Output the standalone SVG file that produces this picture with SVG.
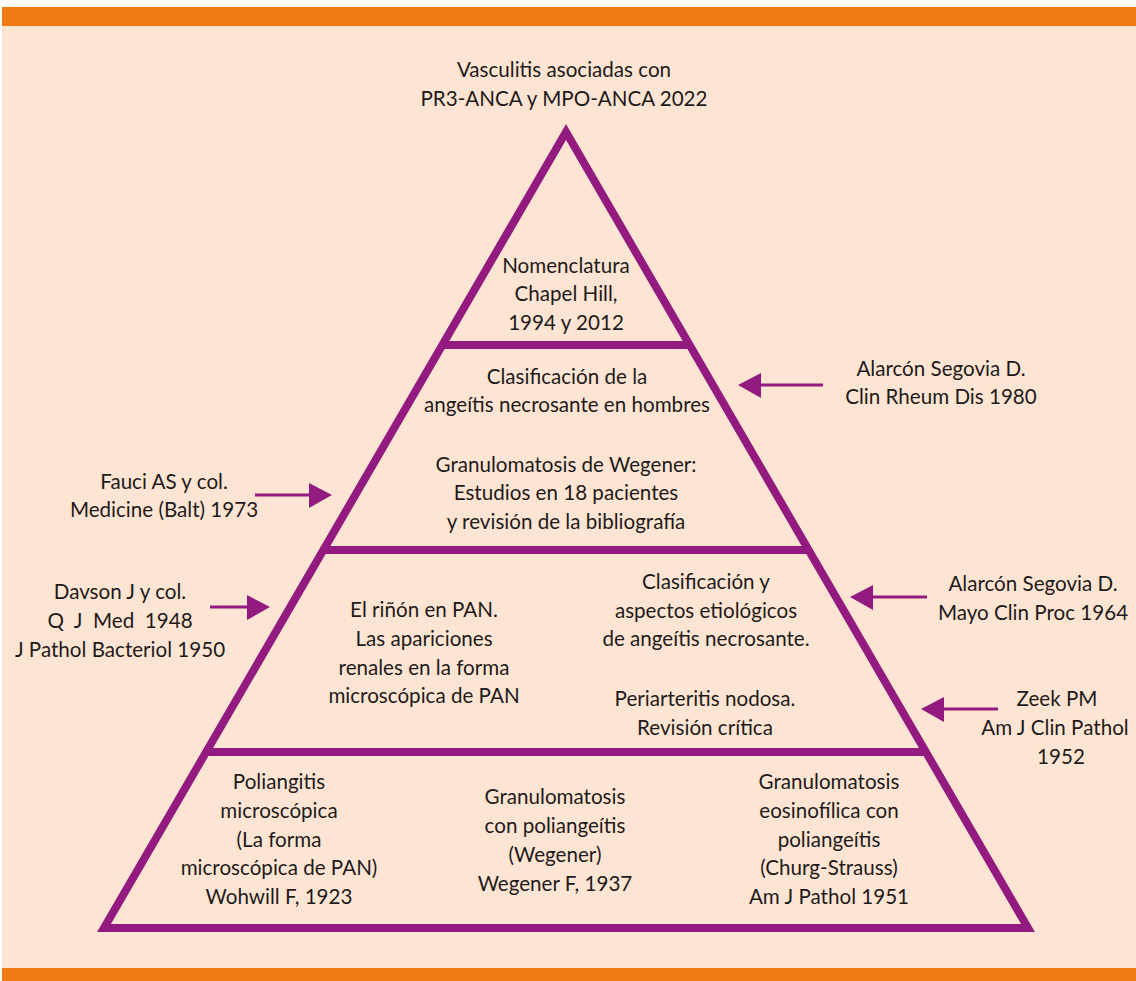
<svg xmlns="http://www.w3.org/2000/svg" width="1136" height="981" viewBox="0 0 1136 981">
<defs>
<style>
.t{font-family:Lato,"Open Sans","Liberation Sans",sans-serif;font-size:20.6px;fill:#1e1a1a;text-anchor:middle}
.tri{fill:none;stroke:#931b7f;stroke-width:8;stroke-linejoin:miter}
.ln{stroke:#931b7f;stroke-width:8}
.ar{stroke:#931b7f;stroke-width:3;fill:none}
.ah{fill:#931b7f}
</style>
</defs>
<rect x="0" y="0" width="1136" height="981" fill="#ffffff"/>
<rect x="2" y="26" width="1134" height="943" fill="#fee5d3"/>
<rect x="2" y="7" width="1134" height="19" fill="#ef7913"/>
<rect x="2" y="968" width="1134" height="13" fill="#ef7913"/>

<g id="pyramid">
<polygon class="tri" points="566,132 104,928 1028,928"/>
<line class="ln" x1="442" y1="345" x2="690" y2="345"/>
<line class="ln" x1="323" y1="550" x2="809" y2="550"/>
<line class="ln" x1="206" y1="752" x2="926" y2="752"/>
</g>

<g id="title"><text class="t" x="564" y="77">Vasculitis asociadas con</text><text class="t" x="564" y="106">PR3-ANCA y MPO-ANCA 2022</text></g>

<g id="tier1"><text class="t" x="566" y="273">Nomenclatura</text><text class="t" x="566" y="301">Chapel Hill,</text><text class="t" x="566" y="330">1994 y 2012</text></g>

<g id="tier2a"><text class="t" x="567" y="384">Clasificación de la</text><text class="t" x="567" y="412">angeítis necrosante en hombres</text></g>
<g id="tier2b"><text class="t" x="566" y="472">Granulomatosis de Wegener:</text><text class="t" x="566" y="500">Estudios en 18 pacientes</text><text class="t" x="566" y="529">y revisión de la bibliografía</text></g>

<g id="tier3a"><text class="t" x="424" y="617">El riñón en PAN.</text><text class="t" x="424" y="646">Las apariciones</text><text class="t" x="424" y="675">renales en la forma</text><text class="t" x="424" y="703">microscópica de PAN</text></g>
<g id="tier3b"><text class="t" x="706" y="589">Clasificación y</text><text class="t" x="706" y="618">aspectos etiológicos</text><text class="t" x="706" y="646">de angeítis necrosante.</text></g>
<g id="tier3c"><text class="t" x="705" y="706">Periarteritis nodosa.</text><text class="t" x="705" y="735">Revisión crítica</text></g>

<g id="tier4a"><text class="t" x="279" y="789">Poliangitis</text><text class="t" x="279" y="818">microscópica</text><text class="t" x="279" y="847">(La forma</text><text class="t" x="279" y="875">microscópica de PAN)</text><text class="t" x="279" y="904">Wohwill F, 1923</text></g>
<g id="tier4b"><text class="t" x="555" y="804">Granulomatosis</text><text class="t" x="555" y="833">con poliangeítis</text><text class="t" x="555" y="862">(Wegener)</text><text class="t" x="555" y="891">Wegener F, 1937</text></g>
<g id="tier4c"><text class="t" x="829" y="789">Granulomatosis</text><text class="t" x="829" y="818">eosinofílica con</text><text class="t" x="829" y="847">poliangeítis</text><text class="t" x="829" y="875">(Churg-Strauss)</text><text class="t" x="829" y="904">Am J Pathol 1951</text></g>

<g id="ref-alarcon1980"><text class="t" x="941" y="376">Alarcón Segovia D.</text><text class="t" x="941" y="404">Clin Rheum Dis 1980</text></g>
<g id="ref-fauci"><text class="t" x="164" y="489">Fauci AS y col.</text><text class="t" x="164" y="517">Medicine (Balt) 1973</text></g>
<g id="ref-davson"><text class="t" x="120" y="599">Davson J y col.</text><text class="t" x="120" y="628" xml:space="preserve">Q  J  Med  1948</text><text class="t" x="120" y="657">J Pathol Bacteriol 1950</text></g>
<g id="ref-alarcon1964"><text class="t" x="1033" y="591">Alarcón Segovia D.</text><text class="t" x="1033" y="620">Mayo Clin Proc 1964</text></g>
<g id="ref-zeek"><text class="t" x="1057" y="706">Zeek PM</text><text class="t" x="1055" y="735">Am J Clin Pathol</text><text class="t" x="1061" y="764">1952</text></g>

<g id="connectors">
<line class="ar" x1="823" y1="385" x2="758" y2="385"/><polygon class="ah" points="738,385 761,373 761,398"/>
<line class="ar" x1="255" y1="495" x2="312" y2="495"/><polygon class="ah" points="332,495 309,483 309,508"/>
<line class="ar" x1="210" y1="607" x2="250" y2="607"/><polygon class="ah" points="270,607 247,595 247,620"/>
<line class="ar" x1="927" y1="597" x2="870" y2="597"/><polygon class="ah" points="850,597 873,585 873,610"/>
<line class="ar" x1="998" y1="709" x2="941" y2="709"/><polygon class="ah" points="921,709 944,697 944,722"/>
</g>
</svg>
